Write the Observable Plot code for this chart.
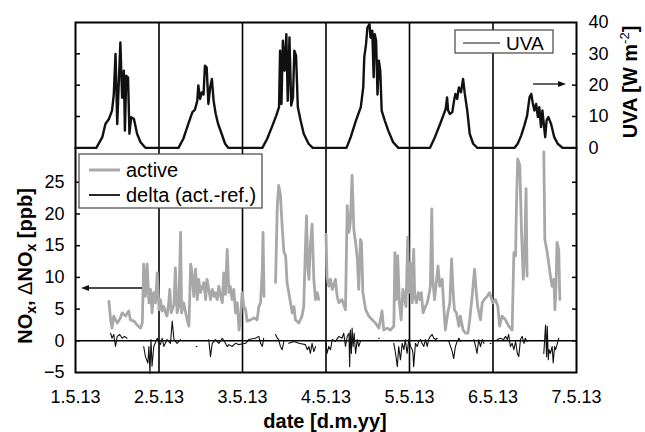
<!DOCTYPE html>
<html><head><meta charset="utf-8">
<script src="https://cdn.jsdelivr.net/npm/d3@7"></script>
<script src="https://cdn.jsdelivr.net/npm/@observablehq/plot@0.6"></script>
<style>
html,body{margin:0;padding:0;background:#fff;}
#chart{position:relative;width:645px;height:432px;}
#chart svg{position:absolute;left:0;top:0;overflow:visible;}
</style></head><body><div id="chart"></div>
<script>
// ---- data (time in hours since 1.5.13 00:00) ----
const dayTicks = [0, 24, 48, 72, 96, 120, 144];
const dayLabels = ["1.5.13", "2.5.13", "3.5.13", "4.5.13", "5.5.13", "6.5.13", "7.5.13"];
const noxTicks = [-5, 0, 5, 10, 15, 20, 25];
const uvaTicks = [0, 10, 20, 30, 40];

const uva = [
 [0,0],[6.0,0],[7.7,3.4],[8.6,7.6],[9.6,9.2],[10.5,11.9],[11,17],[11.5,30],[12,7.6],[12.5,22.5],[12.9,33.6],[13.4,16],[13.9,24.6],[14.2,5.5],[14.6,23],[15.1,22.5],[15.5,4.5],[16,9.8],[16.8,9.2],[17.7,4.5],[18.7,1.8],[20.1,0],
 [29.6,0],[31,2.9],[32.4,7.6],[33.6,11.4],[34.3,12.1],[35,15],[35.3,19.9],[35.8,15.6],[36.3,17.7],[36.8,17],[37.2,26.2],[37.7,25.7],[38.2,14],[38.7,19.3],[39.2,22],[39.7,15],[40.3,10.8],[41,7.6],[42,4.5],[43,1.3],[43.9,0],
 [53.7,0],[55.1,2.9],[56.6,7.1],[57.7,10.3],[58.5,13],[58.8,31],[59.2,14],[59.6,34.2],[60.1,24.6],[60.6,36.3],[61,15],[61.5,35.2],[62,13.5],[62.5,16],[62.9,31],[63.4,29.4],[63.9,13],[64.7,8.7],[65.6,4.5],[67,1.3],[68.2,0],
 [77.9,0],[79.1,3.4],[80.6,8.7],[82,13],[82.7,19.3],[83,28.9],[83.5,33],[83.9,38.4],[84.5,39.5],[84.8,35.2],[85.3,37.4],[85.7,22.5],[86,36.3],[86.4,34.2],[86.8,17],[87.2,27.8],[87.6,24.6],[88,11.9],[88.9,8.7],[89.9,5.5],[91.3,1.8],[92.8,0],
 [101.9,0],[103.3,3.4],[104.8,7.6],[105.7,10.3],[106.4,12.4],[106.8,16.1],[107.1,11.9],[107.6,10.8],[108.3,11.4],[108.8,15],[109.2,17.2],[109.7,15.6],[110.2,19.3],[110.8,17.7],[111.4,22],[111.9,17.2],[112.6,11.9],[113.3,4.5],[114.3,1.3],[115.5,0],
 [126.2,0],[127.1,1.3],[128.1,3.9],[129,7.1],[129.8,10.3],[130.5,16.1],[131,17.2],[131.4,14.5],[131.9,11.9],[132.4,14],[132.9,9.8],[133.3,13],[133.8,6.6],[134.2,11.9],[134.6,7.6],[135,3.4],[135.4,8.7],[135.9,9.8],[136.7,7.6],[137.6,3.4],[138.6,1.3],[140,0],[144,0]
];

const active = [
 [9.6,6.2],[10.1,3.3],[10.5,2.0],[11.0,3.9],[12.0,2.8],[12.9,3.6],[13.4,4.4],[14.4,3.9],[15.3,4.7],[15.8,3.3],[16.8,3.1],[17.7,2.5],[18.7,2.0],[19.2,2.8],[19.6,12.1],[20.1,7.0],[20.6,12.1],[21.1,6.0],[21.6,8.1],[22.0,4.4],[22.5,7.6],[23.0,6.0],[23.5,10.7],[24.0,4.9],[24.4,6.5],[24.9,4.7],[25.4,5.4],[25.9,4.4],[26.3,3.9],[26.8,6.0],[27.1,8.1],[27.5,4.4],[28.3,5.7],[28.7,11.5],[29.2,4.4],[29.7,5.4],[30.2,17.1],[30.5,4.4],[31.1,6.0],[32.1,3.3],[32.6,2.3],[33.1,12.1],[33.5,10.7],[34.0,7.0],[34.5,11.3],[35.0,6.5],[35.4,9.7],[35.9,7.6],[36.9,9.2],[37.4,6.5],[37.8,9.7],[38.3,8.1],[38.8,6.5],[39.3,8.1],[39.8,7.0],[40.2,7.6],[40.7,6.5],[41.2,8.6],[41.7,7.0],[42.2,6.0],[42.6,10.7],[43.1,7.3],[43.6,14.4],[44.1,7.6],[44.5,8.6],[45.0,6.5],[45.5,8.1],[46.0,4.4],[46.5,6.0],[47.0,1.7],[47.4,3.3],[47.9,7.6],[48.4,5.4],[48.9,4.9],[49.3,3.1],[50.3,3.3],[51.3,3.6],[52.2,3.3],[52.7,5.4],[53.2,6.0],[53.7,11.3],[53.9,17.1],[54.2,7.0],[55,null],
 [57.5,9.2],[58.0,21.3],[58.4,24.5],[58.9,23.0],[59.4,18.0],[59.9,14.0],[60.4,13.4],[60.8,9.2],[61.8,6.0],[62.3,4.4],[62.8,5.4],[63.2,3.3],[64.2,2.8],[65.1,3.9],[65.6,5.4],[66.1,15.0],[66.4,19.7],[66.8,11.3],[67.1,9.7],[67.5,15.0],[68.0,18.4],[68.5,9.7],[69.0,6.5],[69.5,7.6],[69.9,6.5],[71,null],
 [72.0,16.8],[72.3,10.0],[72.8,8.6],[73.3,9.7],[73.8,8.1],[74.3,8.9],[74.7,9.7],[75.2,7.0],[75.7,6.0],[76.6,6.5],[77.6,4.9],[78.1,21.3],[78.6,17.1],[79.0,18.7],[79.5,26.1],[80.0,17.6],[80.5,15.5],[81.0,12.9],[81.4,8.1],[81.9,16.0],[82.2,15.5],[82.6,7.6],[83.4,4.9],[84.3,3.9],[85.3,3.3],[86.2,2.8],[87.2,2.0],[88.1,4.7],[88.6,1.7],[89.6,2.0],[90.5,1.7],[91.5,2.3],[91.8,13.9],[92.2,6.5],[92.6,13.4],[93.1,6.0],[93.6,3.3],[94.1,8.1],[94.6,6.5],[95.0,5.4],[95.5,16.3],[95.8,7.6],[96.3,12.3],[96.8,6.0],[97.2,14.4],[97.5,7.0],[98.0,6.0],[98.5,7.6],[99.0,6.5],[99.4,7.6],[99.9,4.4],[100.6,5.4],[101.1,6.0],[101.5,7.0],[102.0,8.6],[102.4,20.8],[102.7,9.7],[103.2,6.5],[103.8,9.7],[104.2,11.8],[104.7,8.6],[105.4,9.7],[105.9,4.9],[106.3,1.7],[107.0,4.4],[107.6,6.0],[108.1,12.9],[108.5,8.1],[108.9,4.9],[109.5,4.4],[110.2,2.3],[110.6,3.9],[111.4,1.7],[112.1,1.2],[112.8,1.2],[113.3,3.3],[114.0,7.0],[114.7,11.3],[115.2,7.6],[115.6,5.4],[116.4,3.3],[116.9,6.0],[117.5,6.5],[118.3,7.0],[119.0,7.6],[119.5,6.8],[119.9,6.0],[120.7,6.5],[121.4,5.4],[121.9,2.3],[122.6,3.9],[123.6,3.3],[124.5,2.3],[125.5,1.7],[126.0,13.9],[126.5,13.4],[126.7,20.3],[127.1,28.7],[127.7,27.7],[128.2,17.1],[128.7,9.7],[129.1,13.9],[129.5,24.0],[129.8,10.2],[132,null],
 [134.6,29.8],[134.9,16.0],[135.6,13.9],[136.5,10.2],[137.0,8.6],[137.5,9.7],[137.8,4.9],[138.1,8.6],[138.4,15.5],[138.9,14.4],[139.2,6.5]
];

const delta = [
 [10.1,1.2],[10.5,0.4],[11.0,1.0],[11.5,-0.9],[12.0,0.7],[12.7,1.0],[13.4,0.4],[14.1,0.7],[14.8,0.4],[16,null],
 [19.6,-0.9],[20.1,-2.5],[20.8,-3.5],[21.1,-0.9],[21.4,-5.1],[21.7,0.2],[22.0,-4.0],[22.5,-0.9],[23.5,0.4],[24.4,-0.6],[24.9,0.4],[25.4,-0.9],[26.3,0.2],[27.3,-0.4],[27.8,3.1],[28.3,0.2],[29.2,-0.4],[30.2,0.2],[31,null],
 [34.7,-0.9],[34.9,-0.9],[35.5,null],
 [38.3,0.2],[38.8,-2.5],[39.3,-0.4],[40.2,0.2],[41.2,-0.4],[42.2,0.4],[43.1,-0.4],[43.6,-0.9],[44.1,-0.6],[45.0,-0.9],[46.0,-0.4],[46.9,-0.6],[48.9,-0.4],[49.8,0.2],[51.7,0.4],[52.7,0.7],[53.2,-0.4],[53.7,-0.9],[54.1,0.4],[55,null],
 [57.5,1.0],[58.0,0.4],[58.4,0.2],[58.9,-0.9],[59.4,-1.4],[59.9,-0.1],[60.5,null],
 [61.3,-0.4],[62.8,-0.1],[64.2,-0.4],[66.1,-0.6],[66.6,-1.4],[67.1,-0.9],[67.5,-2.0],[68.0,-0.4],[68.5,-1.7],[69.0,-0.9],[70,null],
 [72.0,-0.4],[72.3,-2.0],[72.8,-0.9],[73.3,-1.4],[73.8,0.2],[74.7,-0.1],[75.7,0.7],[76.6,0.4],[77.1,1.2],[77.6,-0.9],[78.1,0.7],[78.6,1.2],[78.8,-4.1],[79.0,1.7],[79.3,-2.0],[79.5,2.0],[79.8,-0.9],[80.1,1.2],[80.5,-2.0],[81.0,0.2],[81.4,-0.9],[81.9,-0.1],[83,null],
 [87.1,0.4],[87.3,0.4],[88,null],
 [91.5,-0.4],[92.0,-2.0],[92.5,-4.1],[92.9,-0.9],[93.4,-3.0],[93.9,-0.4],[94.4,-1.4],[94.8,0.2],[95.3,-2.0],[95.8,0.2],[96.3,-0.9],[96.8,-1.4],[97.0,-2.0],[97.2,-4.1],[97.7,-0.4],[98.2,-0.9],[98.7,-0.1],[99.2,0.2],[99.6,-0.4],[100.1,-0.9],[100.6,0.2],[101.1,-0.9],[101.5,0.2],[102.0,0.7],[102.5,1.0],[103.0,0.4],[103.5,0.2],[104.0,0.4],[105,null],
 [107.3,-0.1],[107.8,-0.9],[108.3,-1.7],[108.7,-2.8],[109.2,-0.9],[109.7,-0.1],[110.2,0.4],[110.6,-0.1],[111.5,null],
 [114.5,0.2],[115.0,-0.9],[115.4,-2.0],[115.9,0.2],[116.4,-0.9],[116.9,0.2],[117.4,-0.4],[118,null],
 [119.2,-0.4],[119.4,-0.4],[120,null],
 [121.2,0.2],[122.1,0.4],[123.1,0.2],[123.6,0.7],[124.1,0.2],[124.5,1.0],[125.0,-0.9],[125.5,-0.4],[126.0,-1.4],[126.5,-0.1],[127.0,-2.0],[127.4,-2.5],[127.9,0.2],[128.4,0.7],[128.9,-0.4],[129.3,0.4],[129.8,-0.1],[131,null],
 [134.6,-2.0],[134.9,0.7],[135.1,2.5],[135.4,-2.5],[135.6,2.3],[135.9,-3.0],[136.1,-1.4],[136.5,-2.0],[137.0,-0.9],[137.3,-3.5],[137.7,-0.9],[138.0,-1.4],[138.4,-0.6],[138.9,0.4]
];

// ---- layout ----
const W = 645, H = 432;
const FONT = "'Liberation Sans', Arial, Helvetica, sans-serif";
const common = {
  width: W, height: H,
  marginLeft: 75, marginRight: 69, marginTop: 22, marginBottom: 60,
  style: {fontFamily: FONT, fontSize: "18px", background: "transparent", color: "black", overflow: "visible"}
};
const tx = d => d[0], ty = d => d[1];

const noxPlot = Plot.plot({
  ...common,
  x: {domain: [0, 144]},
  y: {domain: [-5, 50.2]},
  marks: [
    Plot.ruleX(dayTicks.slice(1, -1), {stroke: "black", strokeWidth: 1.6}),
    Plot.ruleY([0], {stroke: "black", strokeWidth: 1.5}),
    Plot.line(active, {x: tx, y: ty, stroke: "#a8a8a8", strokeWidth: 2.8}),
    Plot.line(delta, {x: tx, y: ty, stroke: "#111", strokeWidth: 1.1}),
    Plot.axisX({ticks: dayTicks, tickFormat: d => dayLabels[dayTicks.indexOf(d)], tickSize: 0, tickPadding: 18, label: null}),
    Plot.axisY({ticks: noxTicks, tickSize: 0, tickPadding: 11, label: null}),
    Plot.axisY({ticks: noxTicks.slice(1), anchor: "left", tickSize: 5, insetLeft: 5, tickFormat: () => "", label: null, strokeWidth: 1.5}),
    Plot.axisY({ticks: noxTicks.slice(1), anchor: "right", tickSize: 5, insetRight: 5, tickFormat: () => "", label: null, strokeWidth: 1.5}),
    Plot.frame({stroke: "black", strokeWidth: 2})
  ]
});

const uvaPlot = Plot.plot({
  ...common,
  x: {domain: [0, 144], axis: null},
  y: {domain: [-71.7, 40]},
  marks: [
    Plot.line(uva, {x: tx, y: ty, stroke: "#111", strokeWidth: 2.4}),
    Plot.axisY({ticks: [10, 20, 30], anchor: "left", tickSize: 5, insetLeft: 5, tickFormat: () => "", label: null, strokeWidth: 1.5}),
    Plot.axisY({ticks: [10, 20, 30], anchor: "right", tickSize: 5, insetRight: 5, tickFormat: () => "", label: null, strokeWidth: 1.5}),
    Plot.axisY({ticks: uvaTicks, anchor: "right", tickSize: 0, tickPadding: 12, label: null})
  ]
});

// ---- annotations: legends, arrows, axis titles ----
const ann = d3.create("svg").attr("width", W).attr("height", H)
  .style("font-family", FONT).style("overflow", "visible");

// NOx legend
ann.append("rect").attr("x", 79).attr("y", 154).attr("width", 183).attr("height", 54)
  .attr("fill", "white").attr("stroke", "#444").attr("stroke-width", 1.2);
ann.append("line").attr("x1", 89).attr("x2", 120).attr("y1", 170).attr("y2", 170)
  .attr("stroke", "#a8a8a8").attr("stroke-width", 3);
ann.append("text").attr("x", 126).attr("y", 177).attr("font-size", 20).text("active");
ann.append("line").attr("x1", 89).attr("x2", 120).attr("y1", 195).attr("y2", 195)
  .attr("stroke", "#111").attr("stroke-width", 1.8);
ann.append("text").attr("x", 126).attr("y", 202).attr("font-size", 20).text("delta (act.-ref.)");

// UVA legend
ann.append("rect").attr("x", 455).attr("y", 30).attr("width", 98).attr("height", 23)
  .attr("fill", "white").attr("stroke", "#444").attr("stroke-width", 1.2);
ann.append("line").attr("x1", 463).attr("x2", 500).attr("y1", 43).attr("y2", 43)
  .attr("stroke", "#111").attr("stroke-width", 1.2);
ann.append("text").attr("x", 506).attr("y", 50).attr("font-size", 19).text("UVA");

// arrows
function arrow(x1, x2, y) {
  const dir = Math.sign(x2 - x1);
  ann.append("line").attr("x1", x1).attr("x2", x2 - dir * 6).attr("y1", y).attr("y2", y)
    .attr("stroke", "#111").attr("stroke-width", 1.3);
  ann.append("path").attr("d", `M${x2},${y}L${x2 - dir * 8},${y - 3}L${x2 - dir * 8},${y + 3}Z`).attr("fill", "#111");
}
arrow(142, 81, 288);
arrow(533, 566, 84);

// axis titles
const lt = ann.append("text").attr("transform", "translate(32,266) rotate(-90)")
  .attr("text-anchor", "middle").attr("font-size", 20).attr("font-weight", "bold");
lt.append("tspan").text("NO");
lt.append("tspan").attr("font-size", 14).attr("dy", 4).text("x");
lt.append("tspan").attr("dy", -4).text(", ");
lt.append("tspan").attr("font-weight", "normal").text("\u0394");
lt.append("tspan").text("NO");
lt.append("tspan").attr("font-size", 14).attr("dy", 4).text("x");
lt.append("tspan").attr("dy", -4).text(" [ppb]");

const rt = ann.append("text").attr("transform", "translate(637,82) rotate(-90)")
  .attr("text-anchor", "middle").attr("font-size", 20).attr("font-weight", "bold");
rt.append("tspan").text("UVA [W m");
rt.append("tspan").attr("font-size", 13).attr("dy", -8).attr("font-weight", "normal").text("-2");
rt.append("tspan").attr("dy", 8).text("]");

ann.append("text").attr("x", 325).attr("y", 428).attr("text-anchor", "middle")
  .attr("font-size", 20).attr("font-weight", "bold").text("date [d.m.yy]");

const chart = document.getElementById("chart");
chart.append(noxPlot, uvaPlot, ann.node());
</script>
</body></html>
